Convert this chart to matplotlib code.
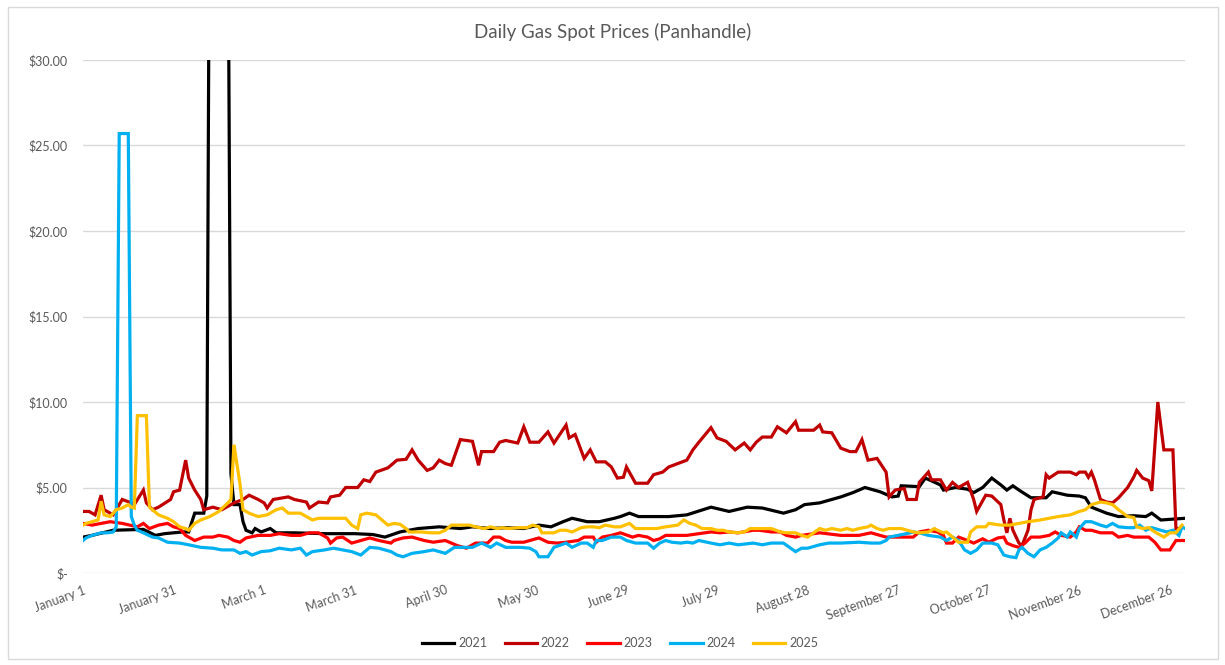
import matplotlib.pyplot as plt
from matplotlib.patches import Rectangle

plt.rcParams['font.family'] = ['Lato', 'DejaVu Sans']

# === Data (day of year, $/MMBtu) ===
days_2021 = [0, 3, 10, 20, 24, 27, 33, 35, 37, 40, 41, 42, 43, 44, 45, 46, 47, 48, 49, 50, 52, 53, 54,
             56, 57, 59, 62, 64, 70, 80, 90, 96, 100, 105, 111, 118, 125, 129, 135, 140, 146, 151, 155,
             159, 162, 167, 171, 176, 178, 181, 184, 194, 200, 208, 214, 220, 225, 232, 236, 239, 244,
             251, 255, 259, 264, 268, 270, 271, 277, 279, 284, 285, 289, 293, 295, 298, 301, 304, 306,
             308, 310, 314, 319, 321, 326, 330, 332, 334, 339, 343, 348, 352, 354, 357, 365]
price_2021 = [2.1, 2.2, 2.5, 2.55, 2.2, 2.3, 2.4, 2.4, 3.5, 3.5, 4.5, 45, 150, 190, 160, 120, 80, 40, 5.8,
              4.0, 4.0, 3.0, 2.5, 2.35, 2.6, 2.4, 2.6, 2.35, 2.35, 2.3, 2.3, 2.25, 2.1, 2.4, 2.6, 2.7,
              2.6, 2.7, 2.6, 2.65, 2.6, 2.8, 2.7, 3.0, 3.2, 3.0, 3.0, 3.2, 3.3, 3.5, 3.3, 3.3, 3.4, 3.85,
              3.6, 3.85, 3.8, 3.5, 3.7, 4.0, 4.1, 4.45, 4.7, 5.0, 4.75, 4.45, 4.5, 5.1, 5.05, 5.55, 5.15,
              4.85, 5.0, 4.9, 4.7, 5.0, 5.55, 5.15, 4.85, 5.1, 4.85, 4.4, 4.4, 4.75, 4.55, 4.5, 4.4,
              3.85, 3.5, 3.3, 3.35, 3.3, 3.5, 3.1, 3.2]

days_2022 = [0, 2, 4, 6, 7, 10, 11, 13, 16, 17, 20, 21, 23, 25, 29, 30, 32, 34, 35, 37, 39, 40, 43, 46,
             50, 53, 55, 58, 60, 61, 63, 68, 70, 74, 75, 78, 81, 82, 85, 87, 91, 93, 95, 97, 101, 104,
             107, 109, 111, 114, 116, 118, 120, 122, 125, 129, 131, 132, 136, 138, 140, 144, 146, 148,
             151, 154, 156, 160, 161, 163, 166, 168, 170, 173, 175, 177, 179, 180, 183, 187, 189, 192,
             194, 197, 200, 202, 204, 208, 210, 213, 216, 219, 221, 223, 225, 228, 230, 233, 236, 237,
             242, 244, 245, 248, 251, 254, 256, 258, 260, 263, 266, 267, 269, 272, 273, 276, 277, 280,
             281, 284, 286, 288, 290, 293, 295, 296, 299, 301, 304, 305, 306, 307, 308, 310, 311, 313,
             314, 315, 318, 319, 320, 323, 327, 329, 330, 332, 333, 334, 335, 337, 339, 341, 343, 346,
             348, 349, 351, 353, 354, 356, 358, 361, 362, 363]
price_2022 = [3.6, 3.6, 3.4, 4.55, 3.7, 3.4, 3.7, 4.3, 4.1, 4.0, 4.85, 4.1, 3.7, 3.85, 4.3, 4.75, 4.85,
              6.6, 5.55, 4.85, 4.3, 3.7, 3.85, 3.7, 4.1, 4.3, 4.55, 4.3, 4.1, 3.8, 4.3, 4.45, 4.3, 4.15,
              3.8, 4.15, 4.1, 4.45, 4.55, 5.0, 5.0, 5.45, 5.35, 5.9, 6.15, 6.6, 6.65, 7.2, 6.6, 6.0,
              6.15, 6.6, 6.4, 6.3, 7.8, 7.7, 6.3, 7.1, 7.1, 7.65, 7.75, 7.6, 8.55, 7.65, 7.65, 8.25,
              7.6, 8.65, 7.9, 8.1, 6.7, 7.2, 6.5, 6.5, 6.2, 5.55, 5.6, 6.2, 5.25, 5.25, 5.75, 5.9, 6.2,
              6.4, 6.6, 7.2, 7.65, 8.5, 7.9, 7.7, 7.2, 7.6, 7.2, 7.65, 7.95, 7.95, 8.55, 8.2, 8.85,
              8.35, 8.35, 8.65, 8.25, 8.2, 7.3, 7.1, 7.1, 7.8, 6.6, 6.7, 5.9, 4.45, 4.85, 4.95, 4.3,
              4.3, 5.3, 5.9, 5.45, 5.45, 4.85, 5.3, 5.0, 5.3, 4.3, 3.6, 4.55, 4.5, 4.0, 3.1, 2.35, 3.2,
              2.5, 1.75, 1.6, 2.5, 3.7, 4.3, 4.45, 5.75, 5.55, 5.9, 5.9, 5.75, 5.9, 5.9, 5.6, 5.9, 5.45,
              4.3, 4.15, 4.1, 4.4, 5.0, 5.6, 6.0, 5.55, 5.4, 4.8, 10.0, 7.2, 7.2, 2.6, 2.6]

days_2023 = [0, 3, 9, 13, 18, 20, 22, 25, 28, 30, 32, 34, 35, 37, 40, 43, 45, 48, 50, 52, 54, 58, 62,
             65, 69, 72, 75, 78, 81, 82, 84, 86, 89, 92, 95, 98, 102, 103, 106, 109, 113, 116, 120,
             122, 124, 127, 130, 134, 136, 138, 140, 142, 146, 151, 154, 157, 160, 164, 166, 169, 170,
             172, 175, 178, 182, 184, 187, 189, 191, 193, 200, 204, 208, 211, 214, 217, 222, 224, 228,
             231, 233, 236, 238, 244, 251, 257, 261, 264, 266, 272, 275, 277, 280, 283, 285, 286, 288,
             290, 293, 295, 298, 300, 303, 305, 306, 308, 310, 312, 314, 317, 320, 322, 324, 327, 329,
             330, 332, 334, 337, 341, 343, 346, 348, 353, 355, 357, 360, 362, 365]
price_2023 = [2.9, 2.8, 3.0, 2.9, 2.7, 2.9, 2.6, 2.8, 2.9, 2.7, 2.6, 2.2, 2.1, 1.9, 2.1, 2.1, 2.2, 2.1,
              1.9, 1.8, 2.05, 2.2, 2.2, 2.3, 2.2, 2.2, 2.35, 2.35, 2.05, 1.75, 2.05, 2.1, 1.75, 1.9,
              2.05, 1.9, 1.75, 1.9, 2.05, 2.1, 1.9, 1.8, 1.9, 1.75, 1.6, 1.45, 1.75, 1.75, 2.1, 2.1,
              1.9, 1.8, 1.8, 2.05, 1.8, 1.75, 1.8, 1.9, 2.1, 2.1, 1.8, 2.1, 2.2, 2.35, 2.1, 2.2, 2.1,
              1.9, 2.0, 2.2, 2.2, 2.3, 2.4, 2.35, 2.4, 2.35, 2.5, 2.5, 2.4, 2.4, 2.2, 2.1, 2.2, 2.35,
              2.2, 2.2, 2.35, 2.2, 2.1, 2.1, 2.1, 2.4, 2.5, 2.4, 2.2, 1.75, 1.75, 2.1, 1.9, 1.75, 2.0,
              1.8, 2.05, 2.1, 1.75, 1.6, 1.5, 1.75, 2.1, 2.1, 2.2, 2.4, 2.2, 2.1, 2.4, 2.7, 2.5, 2.5,
              2.35, 2.35, 2.1, 2.2, 2.1, 2.1, 1.8, 1.35, 1.35, 1.9, 1.9]

days_2024 = [0, 1, 3, 6, 8, 10, 11, 12, 15, 16, 17, 18, 20, 23, 25, 28, 32, 35, 39, 43, 46, 50, 52,
             54, 56, 59, 62, 65, 69, 72, 74, 76, 80, 83, 86, 89, 92, 95, 98, 102, 104, 106, 109, 113,
             116, 120, 123, 126, 129, 132, 135, 137, 140, 145, 148, 150, 151, 154, 156, 160, 162, 165,
             167, 169, 170, 172, 175, 178, 180, 183, 187, 189, 191, 193, 195, 198, 200, 202, 204, 208,
             211, 214, 217, 222, 225, 228, 232, 234, 236, 238, 240, 244, 247, 251, 257, 261, 264, 266,
             267, 270, 274, 275, 277, 280, 284, 286, 288, 290, 292, 294, 296, 298, 301, 303, 305, 307,
             309, 310, 311, 313, 315, 317, 319, 321, 323, 324, 326, 327, 329, 330, 332, 334, 337, 339,
             341, 343, 346, 348, 350, 352, 354, 357, 359, 361, 363, 364, 365]
price_2024 = [1.9, 2.05, 2.2, 2.35, 2.35, 2.4, 2.7, 25.7, 25.7, 3.3, 2.8, 2.5, 2.35, 2.1, 2.05, 1.8,
              1.75, 1.65, 1.5, 1.45, 1.35, 1.35, 1.15, 1.25, 1.05, 1.25, 1.3, 1.45, 1.35, 1.45, 1.05,
              1.25, 1.35, 1.45, 1.35, 1.25, 1.05, 1.5, 1.45, 1.25, 1.05, 0.95, 1.15, 1.25, 1.35, 1.15,
              1.5, 1.5, 1.5, 1.75, 1.5, 1.75, 1.5, 1.5, 1.45, 1.25, 0.95, 0.95, 1.5, 1.75, 1.5, 1.75,
              1.75, 1.5, 1.9, 1.9, 2.1, 2.1, 1.9, 1.75, 1.75, 1.45, 1.75, 1.9, 1.8, 1.75, 1.8, 1.75,
              1.9, 1.75, 1.65, 1.75, 1.65, 1.75, 1.65, 1.75, 1.75, 1.5, 1.25, 1.45, 1.45, 1.65, 1.75,
              1.75, 1.8, 1.75, 1.75, 1.9, 2.1, 2.2, 2.35, 2.4, 2.35, 2.2, 2.1, 1.9, 2.1, 1.9, 1.35,
              1.15, 1.35, 1.75, 1.75, 1.65, 1.05, 0.95, 0.9, 1.35, 1.5, 1.15, 0.95, 1.35, 1.5, 1.75,
              2.05, 2.35, 2.1, 2.4, 2.1, 2.6, 3.0, 3.0, 2.8, 2.7, 2.9, 2.7, 2.65, 2.65, 2.8, 2.5, 2.65,
              2.5, 2.4, 2.5, 2.2, 2.7, 2.6]

days_2025 = [0, 1, 5, 6, 7, 9, 11, 13, 15, 16, 17, 18, 21, 22, 23, 25, 28, 30, 32, 34, 35, 37, 39, 42,
             45, 48, 49, 50, 52, 53, 55, 58, 61, 64, 66, 68, 72, 74, 76, 78, 83, 87, 89, 91, 92, 94,
             97, 99, 101, 103, 105, 107, 108, 112, 115, 118, 120, 122, 125, 128, 130, 133, 135, 137,
             139, 141, 144, 147, 149, 151, 152, 156, 158, 160, 162, 165, 167, 169, 171, 173, 176, 178,
             181, 183, 187, 190, 193, 197, 199, 201, 203, 205, 208, 210, 212, 214, 217, 219, 221, 224,
             228, 231, 233, 236, 238, 240, 242, 244, 246, 248, 251, 253, 255, 257, 260, 261, 263, 265,
             267, 271, 273, 275, 277, 280, 282, 283, 285, 286, 288, 290, 293, 294, 296, 299, 300, 304,
             307, 310, 313, 317, 320, 323, 327, 330, 332, 334, 337, 339, 341, 343, 346, 348, 349, 351,
             353, 355, 358, 360, 362, 364]
price_2025 = [2.8, 2.9, 3.1, 4.2, 3.4, 3.3, 3.7, 3.8, 4.0, 3.85, 3.8, 9.2, 9.2, 3.85, 3.7, 3.4, 3.2,
              3.0, 2.7, 2.6, 2.5, 2.9, 3.1, 3.3, 3.6, 4.1, 4.3, 7.5, 5.2, 3.7, 3.5, 3.3, 3.4, 3.7, 3.8,
              3.5, 3.5, 3.3, 3.1, 3.2, 3.2, 3.2, 2.8, 2.6, 3.4, 3.5, 3.4, 3.1, 2.8, 2.9, 2.85, 2.6, 2.4,
              2.4, 2.35, 2.35, 2.5, 2.8, 2.8, 2.8, 2.7, 2.6, 2.7, 2.6, 2.65, 2.6, 2.65, 2.65, 2.8, 2.7,
              2.35, 2.35, 2.5, 2.5, 2.4, 2.65, 2.7, 2.7, 2.65, 2.8, 2.7, 2.7, 2.9, 2.6, 2.6, 2.6, 2.7,
              2.8, 3.1, 2.9, 2.8, 2.6, 2.6, 2.5, 2.5, 2.4, 2.35, 2.4, 2.6, 2.6, 2.6, 2.4, 2.35, 2.35,
              2.2, 2.1, 2.35, 2.6, 2.5, 2.6, 2.5, 2.6, 2.5, 2.6, 2.7, 2.8, 2.6, 2.5, 2.6, 2.6, 2.5, 2.4,
              2.35, 2.4, 2.6, 2.5, 2.35, 2.4, 2.1, 1.8, 1.8, 2.4, 2.7, 2.7, 2.9, 2.8, 2.8, 2.9, 3.0,
              3.1, 3.2, 3.3, 3.4, 3.6, 3.7, 4.0, 4.15, 4.1, 4.0, 3.7, 3.3, 3.25, 2.7, 2.6, 2.65, 2.4,
              2.1, 2.35, 2.35, 2.8]

tick_days = [0, 30, 60, 90, 120, 150, 180, 210, 240, 270, 300, 330, 360]
tick_labels = ['January 1', 'January 31', 'March 1', 'March 31', 'April 30', 'May 30', 'June 29',
               'July 29', 'August 28', 'September 27', 'October 27', 'November 26', 'December 26']
y_ticks = [0, 5, 10, 15, 20, 25, 30]
y_labels = ['$-', '$5.00', '$10.00', '$15.00', '$20.00', '$25.00', '$30.00']

series = [
    ('2021', days_2021, price_2021, '#000000'),
    ('2022', days_2022, price_2022, '#C00000'),
    ('2023', days_2023, price_2023, '#FF0000'),
    ('2024', days_2024, price_2024, '#00B0F0'),
    ('2025', days_2025, price_2025, '#FFC000'),
]

text_color = '#595959'

# === Plot ===
fig = plt.figure(figsize=(12.25, 6.65), dpi=100)
ax = fig.add_axes([83 / 1225, 1 - 573 / 665, 1102 / 1225, 513 / 665])

for name, d, p, c in series:
    ax.plot(d, p, color=c, linewidth=2.3, label=name, solid_joinstyle='miter')

ax.set_xlim(0, 365)
ax.set_ylim(0, 30)
ax.set_yticks(y_ticks)
ax.set_yticklabels(y_labels)
ax.set_xticks(tick_days)
ax.set_xticklabels(tick_labels, rotation=20, ha='right', rotation_mode='anchor')
ax.tick_params(axis='both', length=0, colors=text_color, labelsize=9)
ax.tick_params(axis='x', pad=8)
ax.tick_params(axis='y', pad=11)
ax.grid(axis='y', color='#D9D9D9', linewidth=1)
ax.set_axisbelow(True)
for s in ax.spines.values():
    s.set_visible(False)

fig.suptitle('Daily Gas Spot Prices (Panhandle)', y=1 - 32 / 665, va='center',
             fontsize=13.5, color=text_color)

leg = fig.legend(loc='center', bbox_to_anchor=(620 / 1225, 1 - 643 / 665), ncol=5, frameon=False,
                 fontsize=9, handlelength=2.6, columnspacing=1.4, handletextpad=0.3)
for t in leg.get_texts():
    t.set_color(text_color)

# chart area border
fig.patches.append(Rectangle((8 / 1225, 6 / 665), 1210 / 1225, 652 / 665, transform=fig.transFigure,
                             fill=False, edgecolor='#D9D9D9', linewidth=1))

fig.savefig('out.png', dpi=100)
